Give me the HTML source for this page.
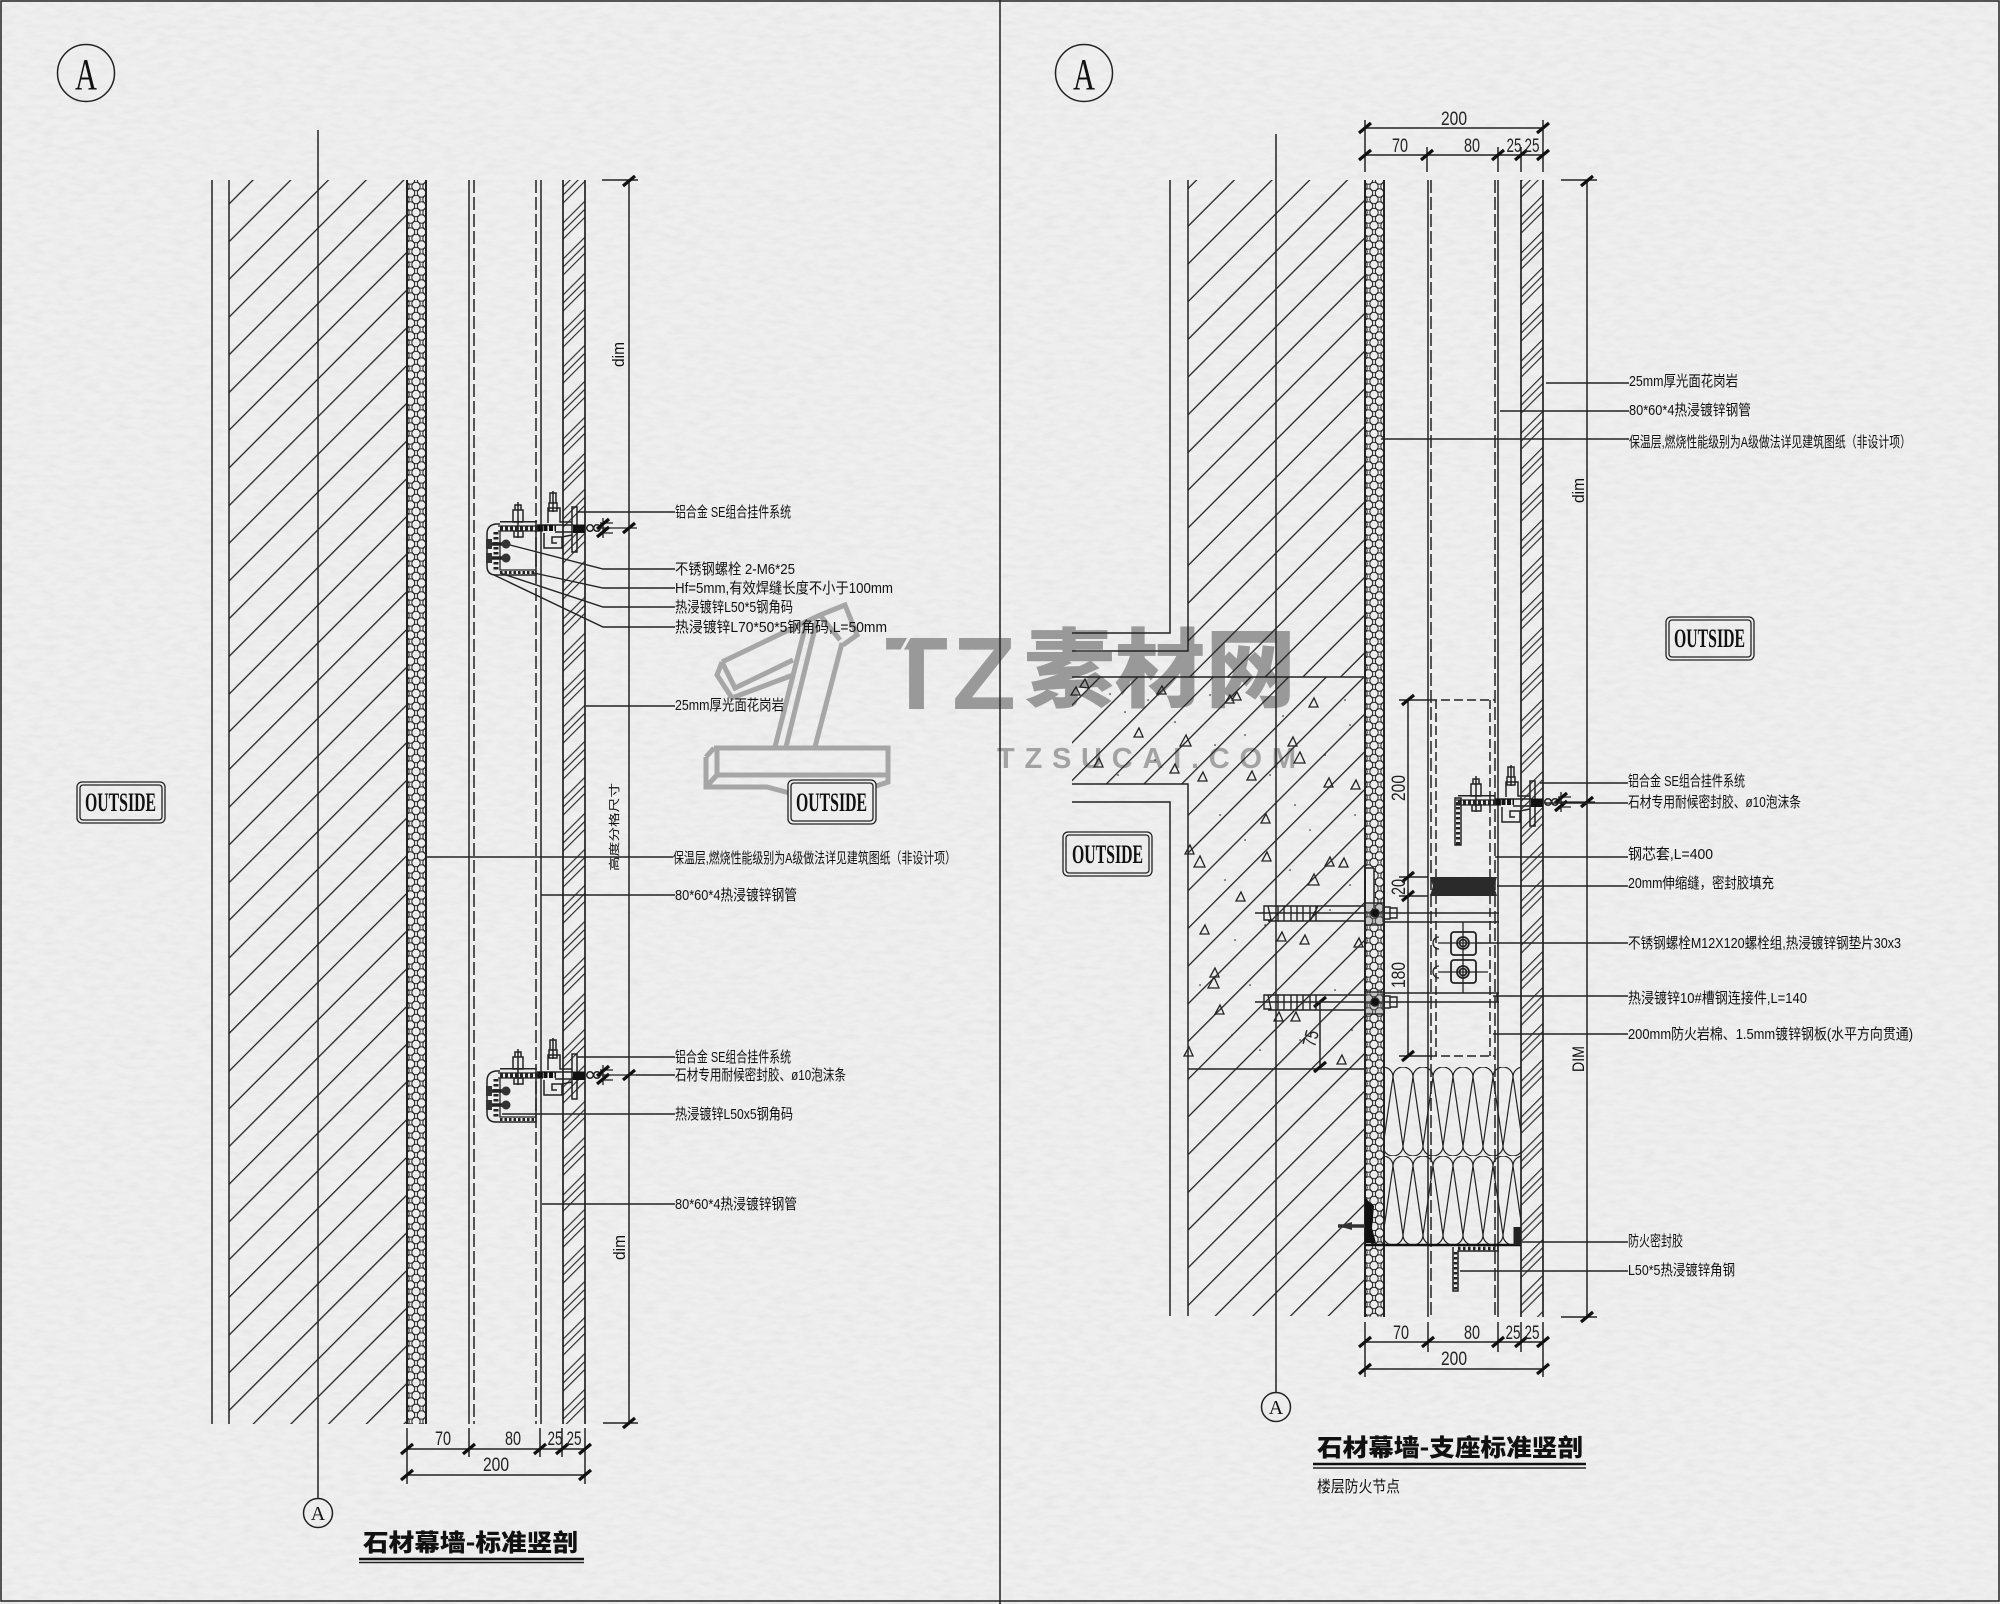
<!DOCTYPE html>
<html lang="zh"><head><meta charset="utf-8"><title>石材幕墙</title>
<style>
html,body{margin:0;padding:0;background:#ececec}
svg{display:block}
text{font-family:"Liberation Sans","Noto Sans CJK SC",sans-serif;font-size:15px;fill:#111}
.n{font-size:19px;text-anchor:middle;fill:#222}
.o{font-family:"Liberation Serif",serif;font-size:26px;font-weight:700;fill:#111}
.tt{font-family:"Noto Sans CJK SC",sans-serif;font-size:24px;font-weight:900;fill:#111}
.l{stroke:#222;stroke-width:1.5;fill:none}
.h{stroke:#222;stroke-width:1.3;fill:none}
.d{stroke:#222;stroke-width:1.5;fill:none;stroke-dasharray:13 4}
</style></head><body>
<svg xmlns="http://www.w3.org/2000/svg" width="2000" height="1604" viewBox="0 0 2000 1604">
<defs>
<filter id="paper" x="0" y="0" width="100%" height="100%"><feTurbulence type="fractalNoise" baseFrequency="0.07 0.2" numOctaves="3" seed="7"/><feColorMatrix values="0 0 0 0 0.6  0 0 0 0 0.6  0 0 0 0 0.6  0.9 0 0 0 -0.33"/></filter>
<pattern id="wL" patternUnits="userSpaceOnUse" width="26.66" height="40" patternTransform="rotate(45)"><line x1="12.94" y1="0" x2="12.94" y2="40" class="h"/></pattern>
<pattern id="wR" patternUnits="userSpaceOnUse" width="26.66" height="40" patternTransform="rotate(45)"><line x1="13.65" y1="0" x2="13.65" y2="40" class="h"/></pattern>
<pattern id="wC" patternUnits="userSpaceOnUse" width="26.66" height="40" patternTransform="rotate(45)"><line x1="3.6" y1="0" x2="3.6" y2="40" class="h"/></pattern>
<pattern id="sL" patternUnits="userSpaceOnUse" width="25.46" height="40" patternTransform="rotate(45)"><path d="M7.07 0V40M1.41 0V40M21.2 0V40" stroke="#222" stroke-width="1.1"/></pattern>
<pattern id="sR" patternUnits="userSpaceOnUse" width="25.46" height="40" patternTransform="rotate(45)"><path d="M18.38 0V40M12.73 0V40M7.07 0V40" stroke="#222" stroke-width="1.1"/></pattern>
<pattern id="iL" patternUnits="userSpaceOnUse" x="410.5" y="180" width="11" height="13"><g fill="none" stroke="#222" stroke-width="1"><circle cx="0" cy="0" r="4.2"/><circle cx="11" cy="0" r="4.2"/><circle cx="5.5" cy="6.5" r="4.2"/><circle cx="0" cy="13" r="4.2"/><circle cx="11" cy="13" r="4.2"/></g></pattern>
<pattern id="iR" patternUnits="userSpaceOnUse" x="1368.5" y="180" width="11" height="13"><g fill="none" stroke="#222" stroke-width="1"><circle cx="0" cy="0" r="4.2"/><circle cx="11" cy="0" r="4.2"/><circle cx="5.5" cy="6.5" r="4.2"/><circle cx="0" cy="13" r="4.2"/><circle cx="11" cy="13" r="4.2"/></g></pattern>
<pattern id="wool" patternUnits="userSpaceOnUse" x="1393" y="1067" width="20" height="89"><path d="M0 10A10 10 0 0 1 20 10M0 10L10 79L20 10M-10 79A10 10 0 0 0 10 79M10 79A10 10 0 0 0 30 79" fill="none" stroke="#222" stroke-width="1.2"/></pattern>
<path id="t" d="M-6 5L6-5" stroke="#111" stroke-width="3.2" fill="none"/>
<g id="hang">
 <path d="M500 521.7H537" class="l"/>
 <path d="M498 526H543M498 531H543" class="h"/>
 <line x1="500" y1="528.5" x2="543" y2="528.5" stroke="#222" stroke-width="5" stroke-dasharray="3 2"/>
 <path d="M513 510h10v12h-10zM514 531h9v6h-9zM518 502v36M515 505h6v5h-6z" class="l"/>
 <path d="M548 523V508H560V522H572M572 507H577V552H572Z" class="l"/>
 <path d="M537 525H573M555 532H573" class="l"/>
 <path d="M538 528H556" stroke="#111" stroke-width="6" stroke-dasharray="4 1.5"/>
 <path d="M544 533V548H562V537H552V543H557M562 537L572 535" class="l"/>
 <rect x="573" y="524.5" width="12" height="8.5" fill="#111"/>
 <path d="M550 493h6v10h-6zM553 491v21M549 503h8v8h-8z" class="l"/>
 <circle cx="590" cy="528" r="3.3" class="l"/><circle cx="597" cy="528" r="3.3" class="l"/>
 <path d="M603 518V538M600 523H613M600 533H613M597 528H637" class="h"/>
 <use href="#t" x="603" y="524"/><use href="#t" x="603" y="532"/><use href="#t" x="629" y="528"/>
</g>
<g id="box">
 <path d="M500 524H496Q487 525 487 534V566Q487 575 496 575H536V531" class="l"/>
 <path d="M500 531V570H536" class="h"/>
 <line x1="496" y1="532" x2="496" y2="570" stroke="#222" stroke-width="5" stroke-dasharray="2.5 2.5"/>
 <line x1="500" y1="572.5" x2="536" y2="572.5" stroke="#222" stroke-width="3" stroke-dasharray="2.5 2"/>
 <path d="M486 544H510M486 558H510" stroke="#222" stroke-width="3.5"/>
 <circle cx="506" cy="544" r="4.5" fill="#333"/><circle cx="506" cy="558" r="4.5" fill="#333"/>
 <rect x="486" y="539" width="6" height="10" fill="#333"/><rect x="486" y="553" width="6" height="10" fill="#333"/>
</g>
</defs>
<rect width="2000" height="1604" fill="#efefef"/>
<rect width="2000" height="1604" filter="url(#paper)" opacity=".5"/>

<!-- watermark -->
<g fill="none" stroke="#a6a6a6" stroke-width="5" stroke-linejoin="miter">
<path d="M714 748H888V782L876 786M717 775H888M717 748V775M706 757L714 748M706 757V787H767L797 795M706 787L717 775"/>
<path d="M722 662L820 615L845 605L857 635L843 645M820 615L840 640M722 662L717 675L732 698L793 675M722 662L735 688L793 660M775 747L807 620M786 747L817 620M815 747L842 643"/>
</g>
<text x="885" y="709" textLength="63" lengthAdjust="spacingAndGlyphs" style="font-size:103px;font-weight:700;fill:#999">T</text>
<text x="952" y="709" textLength="64" lengthAdjust="spacingAndGlyphs" style="font-size:103px;font-weight:700;fill:#999">Z</text>
<line x1="911" y1="634" x2="902" y2="650" stroke="#eee" stroke-width="3"/>
<text x="1024" y="700" textLength="272" lengthAdjust="spacingAndGlyphs" style="font-size:86px;font-family:'Noto Sans CJK SC',sans-serif;font-weight:900;fill:#999">素材网</text>
<text x="997" y="768" textLength="299" style="font-size:29px;font-weight:700;fill:#a2a2a2">TZSUCAI.COM</text>

<!-- panel frame -->
<rect x="1" y="1" width="1998" height="1600" class="l"/>
<line x1="1000" y1="0" x2="1000" y2="1604" class="l"/>

<!-- LEFT DRAWING -->
<circle cx="86" cy="73" r="28.5" class="l"/>
<text x="86" y="89" text-anchor="middle" style="font-family:'Liberation Serif',serif;font-size:44px" textLength="22" lengthAdjust="spacingAndGlyphs">A</text>
<rect x="229" y="180" width="178" height="1244" fill="url(#wL)"/>
<path d="M212 180V1424M229 180V1424" class="l"/>
<path d="M318 130V1498" class="l"/>
<circle cx="318" cy="1513" r="14.5" class="l"/>
<text x="318" y="1520" text-anchor="middle" style="font-family:'Liberation Serif',serif;font-size:20px">A</text>
<rect x="407" y="180" width="19" height="1244" fill="url(#iL)"/>
<path d="M407 180V1424M426 180V1424" stroke="#222" stroke-width="2" fill="none"/>
<path d="M469 180V1424M541 180V1424" class="l"/>
<path d="M474 180V1424M536 180V1424" class="d"/>
<rect x="563" y="180" width="22" height="1244" fill="url(#sL)"/>
<path d="M563 180V1424M585 180V1424" stroke="#222" stroke-width="1.7" fill="none"/>
<path d="M629 180V1423M602 180H638M603 1423H638" class="l"/>
<use href="#t" x="629" y="181"/><use href="#t" x="629" y="1423"/>
<text x="0" y="0" transform="translate(624,367) rotate(-90)" textLength="25" lengthAdjust="spacingAndGlyphs" style="font-size:17px">dim</text>
<text x="0" y="0" transform="translate(625,1260) rotate(-90)" textLength="25" lengthAdjust="spacingAndGlyphs" style="font-size:17px">dim</text>
<text x="0" y="0" transform="translate(618,871) rotate(-90)" textLength="88" lengthAdjust="spacingAndGlyphs" style="font-size:11px">高度分格尺寸</text>

<use href="#hang"/><use href="#box"/>
<use href="#hang" y="547"/><use href="#box" y="547"/>

<!-- left leaders -->
<g class="h" style="stroke-width:1.4">
<path d="M577 512H675M510 545L603 569H675M534 573L603 588H675M500 573L603 607H675M494 575L603 627H675M586 706H675M426 857H673M541 895H675"/>
<path d="M577 1057H675M636 1075H675M502 1114H675M542 1204H675"/>
</g>
<!-- left labels -->
<text x="675" y="517" textLength="116" lengthAdjust="spacingAndGlyphs">铝合金 SE组合挂件系统</text>
<text x="675" y="574" textLength="120" lengthAdjust="spacingAndGlyphs">不锈钢螺栓 2-M6*25</text>
<text x="675" y="593" textLength="218" lengthAdjust="spacingAndGlyphs">Hf=5mm,有效焊缝长度不小于100mm</text>
<text x="675" y="612" textLength="118" lengthAdjust="spacingAndGlyphs">热浸镀锌L50*5钢角码</text>
<text x="675" y="632" textLength="212" lengthAdjust="spacingAndGlyphs">热浸镀锌L70*50*5钢角码,L=50mm</text>
<text x="675" y="710" textLength="109" lengthAdjust="spacingAndGlyphs">25mm厚光面花岗岩</text>
<text x="673" y="863" textLength="283" lengthAdjust="spacingAndGlyphs">保温层,燃烧性能级别为A级做法详见建筑图纸（非设计项）</text>
<text x="675" y="900" textLength="122" lengthAdjust="spacingAndGlyphs">80*60*4热浸镀锌钢管</text>
<text x="675" y="1062" textLength="116" lengthAdjust="spacingAndGlyphs">铝合金 SE组合挂件系统</text>
<text x="675" y="1080" textLength="171" lengthAdjust="spacingAndGlyphs">石材专用耐候密封胶、ø10泡沫条</text>
<text x="675" y="1119" textLength="118" lengthAdjust="spacingAndGlyphs">热浸镀锌L50x5钢角码</text>
<text x="675" y="1209" textLength="122" lengthAdjust="spacingAndGlyphs">80*60*4热浸镀锌钢管</text>

<!-- left dims -->
<path d="M407 1428V1484M469 1428V1457M540 1428V1457M562 1428V1457M585 1428V1484M407 1449H585M407 1475H585" class="l"/>
<use href="#t" x="407" y="1449"/><use href="#t" x="469" y="1449"/><use href="#t" x="540" y="1449"/><use href="#t" x="562" y="1449"/><use href="#t" x="585" y="1449"/><use href="#t" x="407" y="1475"/><use href="#t" x="585" y="1475"/>
<text class="n" x="443" y="1445" textLength="16" lengthAdjust="spacingAndGlyphs">70</text>
<text class="n" x="513" y="1445" textLength="16" lengthAdjust="spacingAndGlyphs">80</text>
<text class="n" x="555" y="1445" textLength="15" lengthAdjust="spacingAndGlyphs">25</text>
<text class="n" x="574" y="1445" textLength="15" lengthAdjust="spacingAndGlyphs">25</text>
<text class="n" x="496" y="1471" textLength="26" lengthAdjust="spacingAndGlyphs">200</text>
<text class="tt" x="363" y="1551" textLength="215" lengthAdjust="spacingAndGlyphs">石材幕墙-标准竖剖</text>
<path d="M359 1559H584" stroke="#111" stroke-width="2.5"/><path d="M359 1562.5H584" stroke="#222" stroke-width="1.4"/>

<!-- OUTSIDE boxes -->
<g fill="none" stroke="#222" stroke-width="1.3">
<rect x="77" y="782" width="88" height="41" rx="5"/><rect x="80" y="785" width="82" height="35" rx="3"/>
<rect x="788" y="780" width="88" height="44" rx="5" fill="#eee"/><rect x="791" y="783" width="82" height="38" rx="3"/>
<rect x="1063" y="832" width="89" height="44" rx="5"/><rect x="1066" y="835" width="83" height="38" rx="3"/>
<rect x="1666" y="617" width="88" height="43" rx="5"/><rect x="1669" y="620" width="82" height="37" rx="3"/>
</g>
<text class="o" x="85" y="811" textLength="71" lengthAdjust="spacingAndGlyphs">OUTSIDE</text>
<text class="o" x="796" y="811" textLength="71" lengthAdjust="spacingAndGlyphs">OUTSIDE</text>
<text class="o" x="1072" y="863" textLength="71" lengthAdjust="spacingAndGlyphs">OUTSIDE</text>
<text class="o" x="1674" y="647" textLength="71" lengthAdjust="spacingAndGlyphs">OUTSIDE</text>

<!-- RIGHT DRAWING -->
<circle cx="1084" cy="73" r="28.5" class="l"/>
<text x="1084" y="89" text-anchor="middle" style="font-family:'Liberation Serif',serif;font-size:44px" textLength="22" lengthAdjust="spacingAndGlyphs">A</text>
<rect x="1188" y="180" width="177" height="497" fill="url(#wR)"/>
<path d="M1072 677H1365V1069H1188V784H1072Z" fill="url(#wC)"/>
<rect x="1188" y="1069" width="177" height="247" fill="url(#wC)"/>
<path d="M1170 180V633H1072M1188 180V651H1072M1072 677H1365M1072 784H1188V1316M1072 802H1170V1316M1188 1069H1365" class="l"/>
<path d="M1276 134V1392" class="l"/>
<circle cx="1276" cy="1407" r="14.5" class="l"/>
<text x="1276" y="1414" text-anchor="middle" style="font-family:'Liberation Serif',serif;font-size:20px">A</text>
<!-- aggregate -->
<path class="h" d="M1085 679l-5 8 9 1zM1076 687l-5 8 9 0zM1162 686l-5 8 9 0zM1230 695l-5 8 9 0zM1237 692l-5 8 9 0zM1314 698l-5 9 9 0zM1139 728l-5 9 9 0zM1186 735l-6 11 11 0zM1293 737l-5 9 9 0zM1300 752l-6 11 11 0zM1099 758l-5 9 9 0zM1175 764l-5 9 9 0zM1203 772l-5 9 9 0zM1252 771l-5 9 9 0zM1329 778l-5 9 9 0zM1356 780l-5 9 9 0zM1266 814l-5 9 9 0zM1190 845l-5 9 9 0zM1200 856l-6 11 11 0zM1267 852l-5 9 9 0zM1330 857l-5 9 9 0zM1344 858l-5 9 9 0zM1314 874l-6 11 11 0zM1241 892l-5 9 9 0zM1205 925l-5 9 9 0zM1282 932l-5 9 9 0zM1305 935l-5 9 9 0zM1359 938l-5 9 9 0zM1215 968l-5 9 9 0zM1214 977l-6 11 11 0zM1220 1005l-5 9 9 0zM1279 1012l-5 9 9 0zM1296 1012l-5 9 9 0zM1342 1055l-5 9 9 0zM1189 1047l-5 9 9 0z"/>
<path stroke="#222" stroke-width="1.6" stroke-linecap="round" fill="none" d="M1110 694h.1M1125 712h.1M1148 700h.1M1175 722h.1M1210 695h.1M1245 735h.1M1283 716h.1M1345 700h.1M1118 775h.1M1155 760h.1M1215 745h.1M1270 775h.1M1325 755h.1M1350 725h.1M1220 815h.1M1245 840h.1M1295 805h.1M1310 830h.1M1355 815h.1M1225 880h.1M1290 870h.1M1350 885h.1M1235 940h.1M1265 925h.1M1330 910h.1M1200 985h.1M1250 985h.1M1335 990h.1M1232 1035h.1M1260 1050h.1M1300 1040h.1M1352 1030h.1"/>

<rect x="1365" y="180" width="19" height="1137" fill="url(#iR)"/>
<rect x="1365" y="868" width="9" height="40" fill="#ececec"/>
<path d="M1365 180V1317M1384 180V1317" stroke="#222" stroke-width="2" fill="none"/>
<path d="M1374 868V908M1365 868H1374" class="l"/>
<!-- rock wool -->
<rect x="1384" y="1067" width="137" height="178" fill="url(#wool)"/>
<path d="M1428 180V1317M1498 180V1317" class="l"/>
<path d="M1431 180V1317M1495 180V1317" class="d"/>
<rect x="1521" y="180" width="22" height="1137" fill="url(#sR)"/>
<path d="M1521 180V1317M1543 180V1317" stroke="#222" stroke-width="1.7" fill="none"/>
<path d="M1587 180V1317M1561 180H1597M1561 1317H1597" class="l"/>
<use href="#t" x="1587" y="181"/><use href="#t" x="1587" y="1317"/>
<text x="0" y="0" transform="translate(1584,503) rotate(-90)" textLength="25" lengthAdjust="spacingAndGlyphs" style="font-size:17px">dim</text>
<text x="0" y="0" transform="translate(1584,1072) rotate(-90)" textLength="26" lengthAdjust="spacingAndGlyphs" style="font-size:17px">DIM</text>

<!-- steel core -->
<path d="M1428 700H1495M1428 1056H1495" stroke="#222" stroke-width="1.5" stroke-dasharray="9 4" fill="none"/>
<path d="M1436 700V1056M1490 700V1056" stroke="#222" stroke-width="1.5" stroke-dasharray="9 4" fill="none"/>
<path d="M1408 700V1056M1399 700H1428M1399 877H1428M1399 896H1428M1399 1056H1428" class="l"/>
<use href="#t" x="1408" y="700"/><use href="#t" x="1408" y="877"/><use href="#t" x="1408" y="896"/><use href="#t" x="1408" y="1056"/>
<text class="n" x="0" y="0" transform="translate(1405,788) rotate(-90)" textLength="26" lengthAdjust="spacingAndGlyphs">200</text>
<text class="n" x="0" y="0" transform="translate(1405,887) rotate(-90)" textLength="16" lengthAdjust="spacingAndGlyphs">20</text>
<text class="n" x="0" y="0" transform="translate(1405,975) rotate(-90)" textLength="26" lengthAdjust="spacingAndGlyphs">180</text>
<text class="n" x="0" y="0" transform="translate(1317,1040) rotate(-75)" textLength="16" lengthAdjust="spacingAndGlyphs">75</text>
<path d="M1430 877H1497L1494 886L1497 896H1430L1433 886Z" fill="#2a2a2a"/>
<path d="M1320 1002V1067" class="l"/><use href="#t" x="1320" y="1002"/><use href="#t" x="1320" y="1067"/>
<!-- anchors -->
<g fill="none" stroke="#222" stroke-width="1.4">
<path d="M1264 906h4l3 14h-7zM1268 906H1365M1268 921H1365M1255 913H1397M1278 906v15M1284 906v15M1291 906v15M1297 906v15M1303 906v15M1310 906v15M1316 906v15M1318 906l-8 15M1383 907h7v12h-7zM1390 908h7v10h-7z"/>
<path d="M1397 913H1499M1383 922H1499M1383 906V922"/>
<rect x="1365" y="903" width="19" height="22" fill="#777" fill-opacity=".35"/>
<circle cx="1375" cy="913" r="4" fill="#111"/>
</g>
<g fill="none" stroke="#222" stroke-width="1.4">
<path d="M1264 995h4l3 14h-7zM1268 995H1365M1268 1010H1365M1255 1002H1397M1278 995v15M1284 995v15M1291 995v15M1297 995v15M1303 995v15M1310 995v15M1316 995v15M1383 996h7v12h-7zM1390 997h7v10h-7z"/>
<path d="M1397 1002H1499M1383 993H1499M1497 993V1002M1383 993V1010"/>
<rect x="1365" y="992" width="19" height="22" fill="#777" fill-opacity=".35"/>
<circle cx="1375" cy="1002" r="4" fill="#111"/>
</g>
<!-- slot bolts -->
<g fill="none" stroke="#222" stroke-width="1.8">
<rect x="1451" y="932" width="25" height="23" rx="3"/><rect x="1451" y="960" width="25" height="23" rx="3"/>
<circle cx="1463" cy="943" r="6"/><circle cx="1463" cy="943" r="3.5"/><circle cx="1463" cy="972" r="6"/><circle cx="1463" cy="972" r="3.5"/>
</g>
<path d="M1438 943H1476M1438 972H1488M1463 922V993M1439 937a6 6 0 0 0 0 12M1439 966a6 6 0 0 0 0 12" class="h"/>

<!-- right bracket -->
<use href="#hang" x="958" y="274"/>
<path d="M1455 798H1461V845H1455Z" class="l"/>
<line x1="1458" y1="802" x2="1458" y2="845" stroke="#222" stroke-width="4" stroke-dasharray="2.5 2.5"/>

<!-- fire stop -->
<path d="M1365 1245H1521" stroke="#111" stroke-width="2.6"/>
<path d="M1365 1198L1374 1206L1372 1228L1376 1243H1365Z" fill="#111"/>
<path d="M1338 1226H1365" stroke="#333" stroke-width="3.5"/><path d="M1352 1222L1338 1226L1352 1230Z" fill="#333"/>
<rect x="1513.5" y="1227" width="7.5" height="18" fill="#222"/>
<path d="M1453 1247V1291H1458V1251H1498V1246" class="l"/>
<line x1="1455.5" y1="1252" x2="1455.5" y2="1290" stroke="#222" stroke-width="3.5" stroke-dasharray="2.5 2.5"/>
<line x1="1458" y1="1248.5" x2="1497" y2="1248.5" stroke="#222" stroke-width="3.5" stroke-dasharray="2.5 2.5"/>

<!-- right dims -->
<path d="M1365 120V172M1427 147V172M1498 147V172M1521 147V172M1543 120V172M1365 128H1543M1365 155H1543" class="l"/>
<use href="#t" x="1365" y="128"/><use href="#t" x="1543" y="128"/><use href="#t" x="1365" y="155"/><use href="#t" x="1427" y="155"/><use href="#t" x="1498" y="155"/><use href="#t" x="1521" y="155"/><use href="#t" x="1543" y="155"/>
<text class="n" x="1454" y="125" textLength="26" lengthAdjust="spacingAndGlyphs">200</text>
<text class="n" x="1400" y="152" textLength="16" lengthAdjust="spacingAndGlyphs">70</text>
<text class="n" x="1472" y="152" textLength="16" lengthAdjust="spacingAndGlyphs">80</text>
<text class="n" x="1514" y="152" textLength="15" lengthAdjust="spacingAndGlyphs">25</text>
<text class="n" x="1532" y="152" textLength="15" lengthAdjust="spacingAndGlyphs">25</text>
<path d="M1365 1322V1377M1428 1322V1352M1498 1322V1352M1521 1322V1352M1543 1322V1377M1365 1342H1543M1365 1369H1543" class="l"/>
<use href="#t" x="1365" y="1342"/><use href="#t" x="1428" y="1342"/><use href="#t" x="1498" y="1342"/><use href="#t" x="1521" y="1342"/><use href="#t" x="1543" y="1342"/><use href="#t" x="1365" y="1369"/><use href="#t" x="1543" y="1369"/>
<text class="n" x="1401" y="1339" textLength="16" lengthAdjust="spacingAndGlyphs">70</text>
<text class="n" x="1472" y="1339" textLength="16" lengthAdjust="spacingAndGlyphs">80</text>
<text class="n" x="1513" y="1339" textLength="15" lengthAdjust="spacingAndGlyphs">25</text>
<text class="n" x="1532" y="1339" textLength="15" lengthAdjust="spacingAndGlyphs">25</text>
<text class="n" x="1454" y="1365" textLength="26" lengthAdjust="spacingAndGlyphs">200</text>

<!-- right leaders -->
<path style="stroke-width:1.4" class="h" d="M1546 383H1629M1500 411H1629M1381 439H1629M1540 783H1628M1545 803H1628M1495 857H1628M1497 886H1628M1476 943H1628M1493 996H1628M1493 1034H1628M1522 1242H1628M1460 1271H1628"/>
<text x="1629" y="386" textLength="109" lengthAdjust="spacingAndGlyphs">25mm厚光面花岗岩</text>
<text x="1629" y="415" textLength="122" lengthAdjust="spacingAndGlyphs">80*60*4热浸镀锌钢管</text>
<text x="1629" y="447" textLength="282" lengthAdjust="spacingAndGlyphs">保温层,燃烧性能级别为A级做法详见建筑图纸（非设计项）</text>
<text x="1628" y="786" textLength="117" lengthAdjust="spacingAndGlyphs">铝合金 SE组合挂件系统</text>
<text x="1628" y="807" textLength="173" lengthAdjust="spacingAndGlyphs">石材专用耐候密封胶、ø10泡沫条</text>
<text x="1628" y="859" textLength="85" lengthAdjust="spacingAndGlyphs">钢芯套,L=400</text>
<text x="1628" y="888" textLength="146" lengthAdjust="spacingAndGlyphs">20mm伸缩缝，密封胶填充</text>
<text x="1628" y="948" textLength="273" lengthAdjust="spacingAndGlyphs">不锈钢螺栓M12X120螺栓组,热浸镀锌钢垫片30x3</text>
<text x="1628" y="1003" textLength="179" lengthAdjust="spacingAndGlyphs">热浸镀锌10#槽钢连接件,L=140</text>
<text x="1628" y="1039" textLength="285" lengthAdjust="spacingAndGlyphs">200mm防火岩棉、1.5mm镀锌钢板(水平方向贯通)</text>
<text x="1628" y="1246" textLength="55" lengthAdjust="spacingAndGlyphs">防火密封胶</text>
<text x="1628" y="1275" textLength="107" lengthAdjust="spacingAndGlyphs">L50*5热浸镀锌角钢</text>

<text class="tt" x="1317" y="1456" textLength="266" lengthAdjust="spacingAndGlyphs">石材幕墙-支座标准竖剖</text>
<path d="M1313 1464H1586" stroke="#111" stroke-width="2.5"/><path d="M1313 1468H1586" stroke="#222" stroke-width="1.5"/>
<text x="1317" y="1492" textLength="83" lengthAdjust="spacingAndGlyphs" style="font-size:16px">楼层防火节点</text>
</svg>
</body></html>
